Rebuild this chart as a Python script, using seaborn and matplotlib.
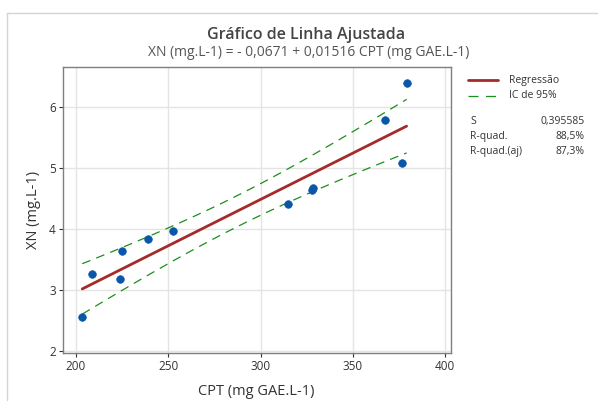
import numpy as np
import pandas as pd
import matplotlib
matplotlib.use("Agg")
import matplotlib.pyplot as plt
from matplotlib.lines import Line2D
import seaborn as sns

# ---- data ----
cpt = [203.4, 208.5, 224.0, 225.1, 238.8, 252.4, 314.7, 327.9, 328.5, 367.5, 376.5, 379.2]
xn = [2.56, 3.26, 3.18, 3.64, 3.84, 3.96, 4.41, 4.64, 4.67, 5.78, 5.08, 6.39]
intercept = -0.0671
slope = 0.01516
s_err = 0.395585
t_crit = 2.228
title = "Gráfico de Linha Ajustada"
subtitle = "XN (mg.L-1) = - 0,0671 + 0,01516 CPT (mg GAE.L-1)"
stats_labels = ["S", "R-quad.", "R-quad.(aj)"]
stats_values = ["0,395585", "88,5%", "87,3%"]
x_ticks = [200, 250, 300, 350, 400]
y_ticks = [2, 3, 4, 5, 6]

sns.set_theme(style="white")
plt.rcParams['font.family'] = ['Open Sans', 'DejaVu Sans']

df = pd.DataFrame({"CPT": cpt, "XN": xn})
x = np.asarray(cpt)
n = len(x)
xbar = x.mean()
sxx = ((x - xbar) ** 2).sum()
xs = np.linspace(x.min(), x.max(), 100)
fit = intercept + slope * xs
half = t_crit * s_err * np.sqrt(1.0 / n + (xs - xbar) ** 2 / sxx)
fit_df = pd.DataFrame({"x": xs, "fit": fit, "lo": fit - half, "hi": fit + half})

fig = plt.figure(figsize=(5.98, 4.01), dpi=100)
ax = fig.add_axes([0.1049, 0.1197, 0.6488, 0.714])

ax.grid(True, color="#e4e4e4", linewidth=1.0)
ax.set_axisbelow(True)

red = "#a52a2a"
green = "#1a8f1a"
blue = "#0a56a8"

sns.lineplot(data=fit_df, x="x", y="lo", ax=ax, color=green, linewidth=0.9,
             linestyle=(0, (7, 5)), zorder=2)
sns.lineplot(data=fit_df, x="x", y="hi", ax=ax, color=green, linewidth=0.9,
             linestyle=(0, (7, 5)), zorder=2)
sns.lineplot(data=fit_df, x="x", y="fit", ax=ax, color=red, linewidth=2.0, zorder=3)
sns.scatterplot(data=df, x="CPT", y="XN", ax=ax, color=blue, s=30,
                edgecolor=blue, linewidth=0.5, zorder=4)

ax.set_xlim(192.8, 403.1)
ax.set_ylim(1.967, 6.655)
ax.set_xticks(x_ticks)
ax.set_yticks(y_ticks)
ax.tick_params(axis="both", labelsize=8.5, colors="#333333", length=3,
               width=0.8, direction="out", left=True, bottom=True, pad=2)
for sp in ax.spines.values():
    sp.set_color("#7f7f7f")
    sp.set_linewidth(1.0)
ax.set_xlabel("CPT (mg GAE.L-1)", fontsize=10.5, color="#333333", labelpad=8)
ax.set_ylabel("XN (mg.L-1)", fontsize=10.5, color="#333333", labelpad=6)

fig.text(0.511, 1 - 35 / 401, title, ha="center", va="center",
         fontsize=11.5, fontweight="semibold", color="#444444")
fig.text(0.516, 1 - 53 / 401, subtitle, ha="center", va="center",
         fontsize=10, color="#555555")

# outer frame
fig.add_artist(Line2D([7 / 598, 1.0], [1 - 13 / 401, 1 - 13 / 401],
                      transform=fig.transFigure, color="#d4d4d4", linewidth=1))
fig.add_artist(Line2D([7 / 598, 7 / 598], [0.0, 1 - 13 / 401],
                      transform=fig.transFigure, color="#d4d4d4", linewidth=1))

# legend
fx = lambda px: px / 598
fy = lambda py: 1 - py / 401
fig.add_artist(Line2D([fx(468), fx(498)], [fy(80), fy(80)],
                      transform=fig.transFigure, color=red, linewidth=2.0))
fig.add_artist(Line2D([fx(468), fx(498)], [fy(96), fy(96)],
                      transform=fig.transFigure, color=green, linewidth=0.9,
                      linestyle=(0, (8, 6))))
fig.text(fx(509), fy(80), "Regressão", fontsize=7.5, va="center", color="#333333")
fig.text(fx(509), fy(96), "IC de 95%", fontsize=7.5, va="center", color="#333333")
for i, (lab, val) in enumerate(zip(stats_labels, stats_values)):
    yy = fy(122 + 14.7 * i)
    fig.text(fx(470), yy, lab, fontsize=7.5, va="center", color="#333333")
    fig.text(fx(585), yy, val, fontsize=7.5, va="center", ha="right", color="#333333")

fig.savefig("out.png", dpi=100)
